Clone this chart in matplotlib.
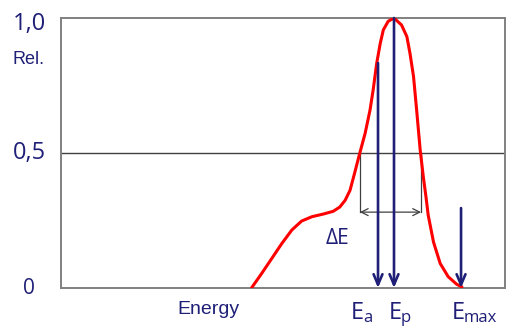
import matplotlib.pyplot as plt
import numpy as np

# espectro relativo (energia em unidades arbitrárias 0-100)
energia = [42.9, 45.2, 47.5, 49.7, 52.0, 54.2, 56.5, 59.1, 61.3, 62.8,
           64.0, 65.1, 66.2, 67.3, 68.5, 69.6, 70.3, 71.1, 71.9, 72.6,
           73.7, 75.0, 76.7, 77.9, 78.6, 79.4, 80.1, 80.9, 81.6, 82.2,
           82.7, 83.9, 85.4, 87.2, 89.1, 90.3]
rel = [0.0, 0.054, 0.110, 0.164, 0.215, 0.248, 0.264, 0.274, 0.284, 0.300,
       0.325, 0.362, 0.430, 0.500, 0.573, 0.659, 0.733, 0.832, 0.906, 0.956,
       0.988, 1.0, 0.974, 0.931, 0.869, 0.783, 0.659, 0.511, 0.412, 0.338,
       0.270, 0.170, 0.091, 0.042, 0.014, 0.004]

# setas: posição, altura do topo, rótulo
setas_x = [71.4, 75.0, 90.1]
setas_topo = [0.833, 1.0, 0.296]
setas_base = ['E', 'E', 'E']
setas_sub = ['a', 'p', 'max']

# largura a meia altura
fwhm_x = [67.3, 81.1]
fwhm_y = 0.281

yticks = [0, 0.5, 1.0]
yticklabels = ['0', '0,5', '1,0']

navy = '#1f1f78'
W, H = 507, 326

fig = plt.figure(figsize=(W / 100, H / 100), dpi=100)
ax = fig.add_axes([61 / W, 1 - 288 / H, (505 - 61) / W, 270 / H])
ax.set_xlim(0, 100)
ax.set_ylim(0, 1)

for s in ax.spines.values():
    s.set_color('#808080')
    s.set_linewidth(1.4)
ax.set_xticks([])
ax.set_yticks([])

ax.axhline(0.5, color='#404040', lw=1.0)

ax.plot(energia, rel, color='red', lw=2.2, solid_joinstyle='round',
        solid_capstyle='round', zorder=3)

for x, topo in zip(setas_x, setas_topo):
    ax.annotate('', xy=(x, 0), xytext=(x, topo),
                arrowprops=dict(arrowstyle='->,head_length=0.75,head_width=0.32',
                                mutation_scale=10, color=navy, lw=1.9,
                                shrinkA=0, shrinkB=0), zorder=4)

# ΔE
for x in fwhm_x:
    ax.plot([x, x], [0.5, fwhm_y], color='#404040', lw=0.9)
ax.annotate('', xy=(fwhm_x[0], fwhm_y), xytext=(fwhm_x[1], fwhm_y),
            arrowprops=dict(arrowstyle='<->,head_length=0.5,head_width=0.25',
                            mutation_scale=10, color='#404040', lw=0.9,
                            shrinkA=0, shrinkB=0))
ax.text(62.2, 0.185, 'ΔE', color=navy, fontsize=15, family='Open Sans',
        ha='center', va='center')

# rótulos do eixo y
for v, lab in zip(yticks, yticklabels):
    yp = 288 - v * 270
    if v == 1.0:
        yp = 24
    fig.text(29 / W, 1 - yp / H, lab, color=navy, fontsize=17 if v else 15,
             family='Open Sans', ha='center', va='center')
fig.text(29 / W, 1 - 60 / H, 'Rel.', color=navy, fontsize=13,
         family='Liberation Sans', ha='center', va='center')

# rótulos do eixo x
fig.text(208 / W, 1 - 310 / H, 'Energy', color=navy, fontsize=14,
         family='Liberation Sans', ha='center', va='center')
base_px = [351, 389, 452]
for px, b, sub in zip(base_px, setas_base, setas_sub):
    fig.text(px / W, 1 - 319 / H, b, color=navy, fontsize=17,
             family='Open Sans', ha='left', va='baseline')
    fig.text((px + 12) / W, 1 - 322 / H, sub, color=navy, fontsize=12,
             family='Open Sans', ha='left', va='baseline')

fig.savefig('out.png', dpi=100)
